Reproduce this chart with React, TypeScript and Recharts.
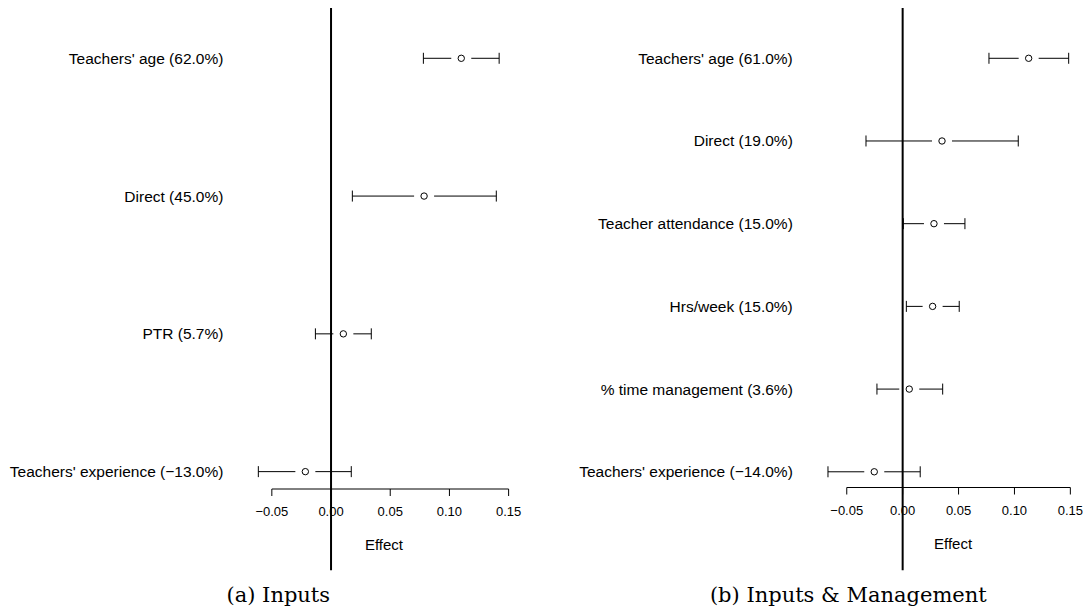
import React from 'react';
import { ComposedChart, Scatter, XAxis, YAxis, ErrorBar, ReferenceLine, Label } from 'recharts';

// ---- data ----
const leftLabels = ["Teachers' age (62.0%)", 'Direct (45.0%)', 'PTR (5.7%)', "Teachers' experience (\u221213.0%)"];
const leftEst = [0.110, 0.0786, 0.0104, -0.0217];
const leftLow = [0.078, 0.018, -0.0132, -0.0614];
const leftHigh = [0.142, 0.1396, 0.034, 0.0171];

const rightLabels = [
  "Teachers' age (61.0%)",
  'Direct (19.0%)',
  'Teacher attendance (15.0%)',
  'Hrs/week (15.0%)',
  '% time management (3.6%)',
  "Teachers' experience (\u221214.0%)",
];
const rightEst = [0.1127, 0.0352, 0.028, 0.0268, 0.0059, -0.0254];
const rightLow = [0.0772, -0.0328, 0.0006, 0.0033, -0.023, -0.0668];
const rightHigh = [0.1485, 0.1034, 0.0557, 0.0506, 0.0358, 0.0157];

const xTicks = [-0.05, 0, 0.05, 0.1, 0.15];
const xLabel = 'Effect';
const captions = ['(a) Inputs', '(b) Inputs & Management'];

const fmtTick = (v: number) => (v < 0 ? '\u2212' : '') + Math.abs(v).toFixed(2);

const PointShape = (props: any) => {
  const { cx, cy } = props;
  if (cx == null || cy == null) return null;
  return (
    <g>
      <rect x={cx - 10} y={cy - 2} width={20} height={4} fill="#fff" />
      <circle cx={cx} cy={cy} r={3.2} fill="#fff" stroke="#000" strokeWidth={1} />
    </g>
  );
};

type PanelProps = {
  labels: string[];
  est: number[];
  low: number[];
  high: number[];
  left: number;
  width: number;
  yAxisWidth: number;
  marginRight: number;
  marginBottom: number;
  xDomain: [number, number];
  yDomain: [number, number];
  zeroBottom: number;
  labelDx: number;
  tickMargin: number;
};

const H = 613;
const AXIS_H = 61;

function Panel(p: PanelProps) {
  const rows = p.labels.map((_, i) => ({ y: i, est: p.est[i], low: p.low[i], high: p.high[i] }));
  const yTicks = p.labels.map((_, i) => i);
  const margin = { top: 8, left: 0, right: p.marginRight, bottom: p.marginBottom };
  const overlayMargin = { top: 8, left: p.yAxisWidth, right: p.marginRight, bottom: p.marginBottom + AXIS_H };
  return (
    <div style={{ position: 'absolute', left: p.left, top: 0, width: p.width, height: H }}>
      <div style={{ position: 'absolute', left: 0, top: 0 }}>
        <ComposedChart width={p.width} height={H} margin={margin} data={rows}>
          <XAxis
            type="number"
            dataKey="est"
            domain={p.xDomain}
            ticks={xTicks}
            interval={0}
            tickFormatter={fmtTick}
            axisLine={false}
            tickLine={{ stroke: '#000', strokeWidth: 1 }}
            tickSize={7}
            tickMargin={11}
            height={AXIS_H}
            tick={{ fill: '#000', fontSize: 13, fontFamily: 'Liberation Sans, Arial, sans-serif' }}
          >
            <Label
              value={xLabel}
              position="insideBottom"
              offset={0}
              dx={p.labelDx}
              style={{ fill: '#000', fontSize: 15, fontFamily: 'Liberation Sans, Arial, sans-serif' }}
            />
          </XAxis>
          <YAxis
            type="number"
            dataKey="y"
            domain={p.yDomain}
            reversed
            ticks={yTicks}
            interval={0}
            tickFormatter={(v: number) => p.labels[v] ?? ''}
            axisLine={false}
            tickLine={false}
            tickSize={0}
            tickMargin={p.tickMargin}
            width={p.yAxisWidth}
            tick={{ fill: '#000', fontSize: 15.5, fontFamily: 'Liberation Sans, Arial, sans-serif' }}
          />
          <ReferenceLine
            segment={[{ x: xTicks[0], y: p.yDomain[1] }, { x: xTicks[xTicks.length - 1], y: p.yDomain[1] }]}
            stroke="#000"
            strokeWidth={1}
            ifOverflow="visible"
          />
          <Scatter data={rows} dataKey="est" shape={<PointShape />} isAnimationActive={false}>
            <ErrorBar
              direction="x"
              dataKey={(d: any) => [d.est - d.low, d.high - d.est]}
              width={5.5}
              stroke="#000"
              strokeWidth={1}
              isAnimationActive={false}
            />
          </Scatter>
        </ComposedChart>
      </div>
      <div style={{ position: 'absolute', left: 0, top: 0, pointerEvents: 'none' }}>
        <ComposedChart width={p.width} height={H} margin={overlayMargin} data={rows}>
          <XAxis type="number" dataKey="est" domain={p.xDomain} hide />
          <YAxis type="number" dataKey="y" domain={p.yDomain} reversed hide />
          <ReferenceLine
            segment={[{ x: 0, y: p.yDomain[0] }, { x: 0, y: p.zeroBottom }]}
            stroke="#000"
            strokeWidth={2}
            ifOverflow="visible"
          />
        </ComposedChart>
      </div>
    </div>
  );
}

export default function App() {
  return (
    <div style={{ position: 'absolute', left: 0, top: 0, width: 1088, height: 613, background: '#fff' }}>
      <Panel
        labels={leftLabels}
        est={leftEst}
        low={leftLow}
        high={leftHigh}
        left={0}
        width={544}
        yAxisWidth={230.4}
        marginRight={11.7}
        marginBottom={H - 489 - AXIS_H}
        xDomain={[-0.085, 0.17]}
        yDomain={[-0.365, 3.126]}
        zeroBottom={3.716}
        labelDx={2.6}
        tickMargin={7}
      />
      <Panel
        labels={rightLabels}
        est={rightEst}
        low={rightLow}
        high={rightHigh}
        left={544}
        width={544}
        yAxisWidth={255.8}
        marginRight={8.7}
        marginBottom={H - 487.5 - AXIS_H}
        xDomain={[-0.092, 0.158]}
        yDomain={[-0.608, 5.19]}
        zeroBottom={6.19}
        labelDx={13.5}
        tickMargin={7}
      />
      <svg width={1088} height={613} style={{ position: 'absolute', left: 0, top: 0, pointerEvents: 'none' }}>
        <text x={278.3} y={601.7} textAnchor="middle" fontFamily="DejaVu Serif" fontSize={21} fill="#000">
          {captions[0]}
        </text>
        <text x={848.3} y={601.7} textAnchor="middle" fontFamily="DejaVu Serif" fontSize={21} fill="#000">
          {captions[1]}
        </text>
      </svg>
    </div>
  );
}
